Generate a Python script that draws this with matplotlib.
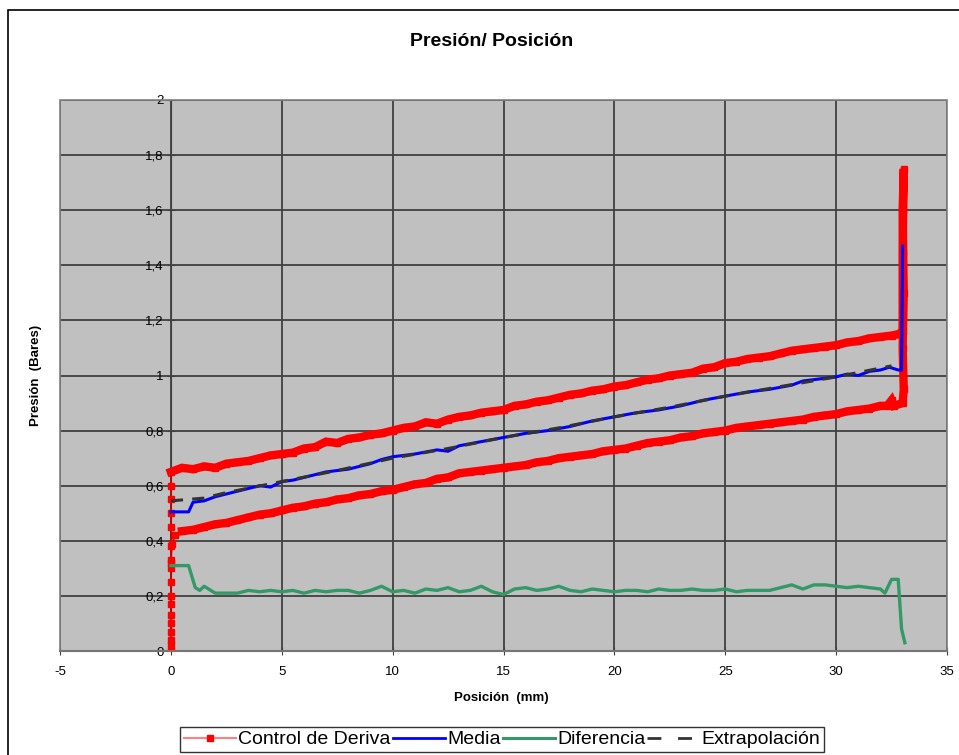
import matplotlib
matplotlib.use("Agg")
import matplotlib.pyplot as plt
from matplotlib.lines import Line2D
from matplotlib.patches import Rectangle

plt.rcParams['font.family'] = ['Liberation Sans', 'DejaVu Sans']
plt.rcParams['axes.unicode_minus'] = False

# Control de Deriva: vertical rise at x=0, upper branch, spike at the end, lower branch back
deriva_x = [0, 0, 0, 0, 0, 0, 0, 0, 0, 0, 0, 0, 0, 0, 0, 0, 0,
            0.5, 1, 1.5, 2, 2.5, 3, 3.5, 4, 4.5, 5, 5.5, 6, 6.5, 7, 7.5, 8, 8.5, 9, 9.5,
            10, 10.5, 11, 11.5, 12, 12.5, 13, 13.5, 14, 14.5, 15, 15.5, 16, 16.5, 17, 17.5,
            18, 18.5, 19, 19.5, 20, 20.5, 21, 21.5, 22, 22.5, 23, 23.5, 24, 24.5, 25, 25.5,
            26, 26.5, 27, 27.5, 28, 28.5, 29, 29.5, 30, 30.5, 31, 31.5, 32, 32.5, 32.8,
            33.0, 33.0, 33.05, 33.0, 33.05, 33.0, 33.05, 33.0,
            32.6, 32.5, 32.3, 32, 31.5, 31, 30.5, 30, 29.5, 29, 28.5, 28, 27.5, 27, 26.5, 26,
            25.5, 25, 24.5, 24, 23.5, 23, 22.5, 22, 21.5, 21, 20.5, 20, 19.5, 19, 18.5, 18,
            17.5, 17, 16.5, 16, 15.5, 15, 14.5, 14, 13.5, 13, 12.5, 12, 11.5, 11, 10.5, 10,
            9.5, 9, 8.5, 8, 7.5, 7, 6.5, 6, 5.5, 5, 4.5, 4, 3.5, 3, 2.5, 2, 1.5, 1, 0.5, 0.2,
            0.05, 0]
deriva_y = [0.0, 0.02, 0.04, 0.07, 0.1, 0.13, 0.17, 0.2, 0.25, 0.3, 0.33, 0.38, 0.45,
            0.5, 0.55, 0.6, 0.65,
            0.665, 0.66, 0.67, 0.665, 0.68, 0.685, 0.69, 0.70, 0.71, 0.715, 0.72, 0.735, 0.74,
            0.76, 0.755, 0.77, 0.775, 0.785, 0.79, 0.80, 0.81, 0.815, 0.83, 0.825, 0.84, 0.85,
            0.855, 0.865, 0.87, 0.875, 0.89, 0.895, 0.905, 0.91, 0.92, 0.93, 0.935, 0.945, 0.95,
            0.96, 0.965, 0.975, 0.985, 0.99, 1.00, 1.005, 1.01, 1.025, 1.03, 1.045, 1.05, 1.06,
            1.065, 1.07, 1.08, 1.09, 1.095, 1.10, 1.105, 1.11, 1.12, 1.125, 1.135, 1.14, 1.145,
            1.15,
            1.16, 1.45, 1.75, 1.6, 1.3, 1.1, 0.95, 0.90,
            0.89, 0.91, 0.89, 0.89, 0.88, 0.875, 0.87, 0.86, 0.855, 0.85, 0.84, 0.835, 0.83,
            0.825, 0.82, 0.815, 0.81, 0.80, 0.795, 0.79, 0.78, 0.775, 0.765, 0.76, 0.755, 0.745,
            0.735, 0.73, 0.725, 0.715, 0.71, 0.705, 0.70, 0.69, 0.685, 0.675, 0.67, 0.665, 0.66,
            0.655, 0.65, 0.645, 0.63, 0.625, 0.61, 0.605, 0.595, 0.585, 0.58, 0.57, 0.565, 0.555,
            0.55, 0.54, 0.535, 0.525, 0.52, 0.51, 0.50, 0.495, 0.485, 0.475, 0.465, 0.46, 0.45,
            0.44, 0.435, 0.42, 0.39, 0.32]

media_x = [0, 0.8, 1.0, 1.5, 2, 2.5, 3, 3.5, 4, 4.5, 5, 5.5, 6, 6.5, 7, 7.5, 8, 8.5, 9, 9.5,
           10, 11, 12, 12.5, 13, 14, 15, 16, 17, 18, 18.5, 19, 20, 21, 22, 23, 24, 25, 26, 27,
           28, 28.5, 29, 30, 30.5, 31, 31.5, 32, 32.4, 32.8, 32.95, 33.0]
media_y = [0.505, 0.505, 0.54, 0.545, 0.56, 0.57, 0.58, 0.59, 0.6, 0.595, 0.615, 0.62,
           0.63, 0.64, 0.65, 0.655, 0.66, 0.67, 0.68, 0.695, 0.705, 0.715, 0.73, 0.725, 0.745,
           0.76, 0.775, 0.79, 0.8, 0.815, 0.825, 0.835, 0.85, 0.865, 0.875, 0.89, 0.91, 0.925,
           0.94, 0.95, 0.965, 0.98, 0.985, 0.995, 1.005, 1.0, 1.015, 1.02, 1.03, 1.02, 1.02, 1.47]

extrap_x = [0, 1.5, 2.5, 5, 7.5, 10, 12.5, 15, 17.5, 20, 22.5, 25, 27.5, 30, 32.5]
extrap_y = [0.545, 0.555, 0.575, 0.615, 0.655, 0.70, 0.735, 0.775, 0.81, 0.85, 0.885, 0.925,
            0.96, 0.995, 1.035]

dif_x = [0, 0.8, 1.1, 1.3, 1.5, 2, 2.5, 3, 3.5, 4, 4.5, 5, 5.5, 6, 6.5, 7, 7.5, 8, 8.5, 9,
         9.5, 10, 10.5, 11, 11.5, 12, 12.5, 13, 13.5, 14, 14.5, 15, 15.5, 16, 16.5, 17, 17.5,
         18, 18.5, 19, 19.5, 20, 20.5, 21, 21.5, 22, 22.5, 23, 23.5, 24, 24.5, 25, 25.5, 26,
         26.5, 27, 27.5, 28, 28.5, 29, 29.5, 30, 30.5, 31, 31.5, 32, 32.2, 32.5, 32.8, 32.95,
         33.1]
dif_y = [0.31, 0.31, 0.23, 0.22, 0.235, 0.21, 0.21, 0.21, 0.22, 0.215, 0.22, 0.215, 0.22,
         0.21, 0.22, 0.215, 0.22, 0.22, 0.21, 0.22, 0.235, 0.215, 0.22, 0.21, 0.225, 0.22,
         0.23, 0.215, 0.22, 0.235, 0.215, 0.205, 0.225, 0.23, 0.22, 0.225, 0.235, 0.22, 0.215,
         0.225, 0.22, 0.215, 0.22, 0.22, 0.215, 0.225, 0.22, 0.22, 0.225, 0.22, 0.22, 0.225,
         0.215, 0.22, 0.22, 0.22, 0.23, 0.24, 0.225, 0.24, 0.24, 0.235, 0.23, 0.235, 0.23,
         0.225, 0.21, 0.26, 0.26, 0.08, 0.03]

x_ticks = [-5, 0, 5, 10, 15, 20, 25, 30, 35]
y_ticks = [0, 0.2, 0.4, 0.6, 0.8, 1, 1.2, 1.4, 1.6, 1.8, 2]
y_labels = ['0', '0,2', '0,4', '0,6', '0,8', '1', '1,2', '1,4', '1,6', '1,8', '2']

fig = plt.figure(figsize=(9.59, 7.55), dpi=100)
ax = fig.add_axes([60 / 959, 104 / 755, 887 / 959, 551 / 755])
ax.set_facecolor('#c0c0c0')

grid_c = '#404040'
# thin line with markers for the whole series, thick band over the two branches
ax.plot(deriva_x, deriva_y, color='#cc0000', lw=1.2, marker='s', markersize=5,
        markerfacecolor='#ff0000', markeredgecolor='#ff0000', zorder=3)
ax.plot(deriva_x[16:-3], deriva_y[16:-3], color='#ff0000', lw=6,
        solid_joinstyle='miter', zorder=3)
ax.plot(dif_x, dif_y, color='#339966', lw=2.4, zorder=3)
ax.plot(media_x, media_y, color='#0000ff', lw=2.2, zorder=4)
ax.plot(extrap_x, extrap_y, color='#333333', lw=2.2, dashes=(4, 3), zorder=5)

ax.set_xlim(-5, 35)
ax.set_ylim(0, 2)
ax.set_xticks(x_ticks)
ax.set_yticks(y_ticks)
ax.set_yticklabels(y_labels)
ax.grid(True, color=grid_c, lw=1.3)
ax.set_axisbelow(True)

# value axis crosses at x = 0, Excel style
ax.spines['left'].set_position(('data', 0))
ax.spines['left'].set_color(grid_c)
ax.spines['right'].set_visible(False)
ax.spines['top'].set_visible(False)
ax.spines['bottom'].set_color(grid_c)
ax.spines['bottom'].set_linewidth(1.5)
ax.add_patch(Rectangle((0, 0), 1, 1, transform=ax.transAxes, fill=False,
                       ec='#808080', lw=1.2, zorder=6, clip_on=False))
ax.tick_params(axis='y', direction='inout', length=6, labelsize=9.5, pad=2, color=grid_c)
ax.tick_params(axis='x', direction='inout', length=6, labelsize=9.5, pad=8, color=grid_c)

fig.text(0.513, 1 - 42 / 755, 'Presión/ Posición', ha='center', va='center',
         fontsize=14, fontweight='bold')
fig.text(0.523, 1 - 698 / 755, 'Posición  (mm)', ha='center', va='center',
         fontsize=9.5, fontweight='bold')
fig.text(36 / 959, 1 - 375 / 755, 'Presión  (Bares)', ha='center', va='center',
         fontsize=9.5, fontweight='bold', rotation=90)

# outer chart border (cropped at the right and bottom)
fig.add_artist(Rectangle((8 / 959, -0.1), 2, 1 - 10 / 755 + 0.1, transform=fig.transFigure,
                         fill=False, ec='black', lw=1.2))

handles = [
    Line2D([], [], color='#ff8080', lw=1.5, marker='s', markersize=4,
           markerfacecolor='#ff0000', markeredgecolor='#ff0000'),
    Line2D([], [], color='#0000ff', lw=2),
    Line2D([], [], color='#339966', lw=2.2),
    Line2D([], [], color='#333333', lw=2, dashes=(5, 6)),
]
labels = ['Control de Deriva', 'Media', 'Diferencia', 'Extrapolación']
leg = fig.legend(handles, labels, loc='upper left', bbox_to_anchor=(180 / 959, 1 - 727 / 755),
                 ncol=4, fontsize=14, frameon=True, fancybox=False, borderpad=0.2,
                 handlelength=2.7, handletextpad=0.1, columnspacing=0.1, borderaxespad=0)
leg.get_frame().set_edgecolor('black')
leg.get_frame().set_linewidth(1)

fig.savefig('out.png', dpi=100)
